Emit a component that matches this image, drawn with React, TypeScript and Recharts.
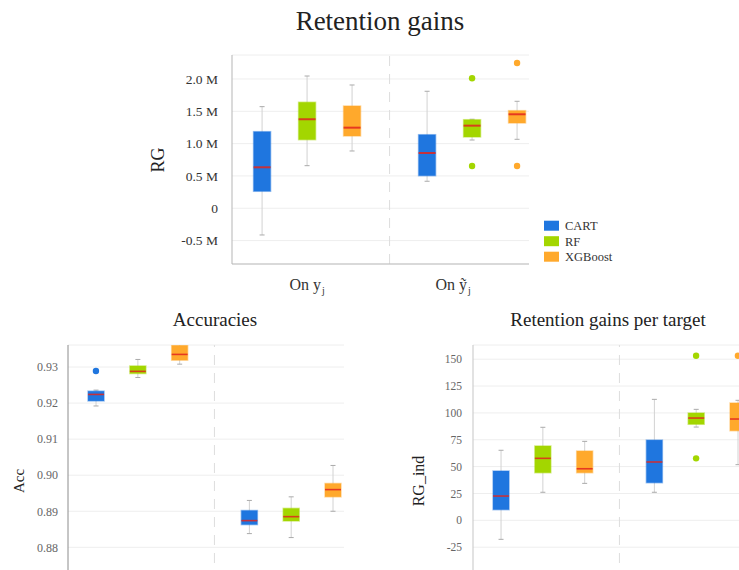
import React from 'react';
import { ComposedChart, Bar, Scatter, XAxis, YAxis, CartesianGrid, ReferenceLine } from 'recharts';

// ---------------- data ----------------
const MODELS = ['CART', 'RF', 'XGBoost'];
const GROUP_LABELS = ['On y', 'On ỹ'];
const GROUP_SUB = 'j';
const GROUP_POS = [0, 1];
const MODEL_OFFSETS = [-0.2727, 0, 0.2727];

// box stats: [min, q1, median, q3, max] for each group
// Retention gains (millions)
const rgCart = [[-0.413, 0.263, 0.634, 1.185, 1.572], [0.418, 0.504, 0.855, 1.138, 1.81]];
const rgRf = [[0.659, 1.061, 1.377, 1.64, 2.046], [1.056, 1.103, 1.278, 1.37, 1.377]];
const rgXgb = [[0.886, 1.118, 1.247, 1.582, 1.907], [1.067, 1.319, 1.454, 1.51, 1.655]];
const rgOutCart: number[][] = [[], []];
const rgOutRf = [[], [2.011, 0.654]];
const rgOutXgb = [[], [2.247, 0.654]];
const rgTicks = [-0.5, 0, 0.5, 1, 1.5, 2];

// Accuracies
const accCart = [[0.9192, 0.9206, 0.9224, 0.9233, 0.9236], [0.8838, 0.8863, 0.8874, 0.8902, 0.893]];
const accRf = [[0.9271, 0.9282, 0.9288, 0.9303, 0.9321], [0.8827, 0.8873, 0.8885, 0.8908, 0.894]];
const accXgb = [[0.9308, 0.9319, 0.9335, 0.936, 0.9363], [0.89, 0.894, 0.896, 0.8977, 0.9027]];
const accOutCart = [[0.9289], []];
const accOutRf: number[][] = [[], []];
const accOutXgb: number[][] = [[], []];
const accTicks = [0.88, 0.89, 0.9, 0.91, 0.92, 0.93];

// Retention gains per target
const rgiCart = [[-17.7, 9.9, 22.6, 45.9, 65.2], [26.1, 35.0, 54.3, 74.7, 112.6]];
const rgiRf = [[26.1, 44.3, 57.7, 69.2, 86.6], [86.8, 89.4, 95.2, 99.9, 103.3]];
const rgiXgb = [[34.4, 44.3, 48.0, 64.5, 73.5], [51.8, 83.4, 94.3, 109.2, 111.7]];
const rgiOutCart: number[][] = [[], []];
const rgiOutRf = [[], [153.2, 57.7]];
const rgiOutXgb = [[], [153.2]];
const rgiTicks = [-25, 0, 25, 50, 75, 100, 125, 150];

// ---------------- styles ----------------
const COLORS: Record<string, string> = { CART: '#1f76df', RF: '#a3d600', XGBoost: '#ffa92c' };
const MEDIAN_COLOR = '#e2261f';
const FONT = '"Liberation Serif", "Times New Roman", serif';
const X_DOMAIN = [-0.455, 1.345];

function buildBoxes(stats: number[][][]) {
  const rows: any[] = [];
  MODELS.forEach((m, mi) => {
    stats[mi].forEach((s, g) => {
      const [lo, q1, med, q3, hi] = s;
      rows.push({ pos: GROUP_POS[g] + MODEL_OFFSETS[mi], range: [lo, hi], q1, med, q3, model: m });
    });
  });
  return rows;
}

function buildOutliers(outs: number[][], mi: number) {
  const rows: any[] = [];
  outs.forEach((vals, g) => {
    vals.forEach((v) => rows.push({ pos: GROUP_POS[g] + MODEL_OFFSETS[mi], val: v }));
  });
  return rows;
}

const makeBoxShape = (medianWidth: number) => (props: any) => {
  const { x, y, width, height, payload } = props;
  if (x == null || y == null || !payload) return <g />;
  const [lo, hi] = payload.range;
  const top = Math.min(y, y + height);
  const h = Math.abs(height);
  const py = (v: number) => (hi === lo ? top : top + ((hi - v) / (hi - lo)) * h);
  const cx = x + width / 2;
  const color = COLORS[payload.model];
  const cap = 2.5;
  return (
    <g>
      <line x1={cx} x2={cx} y1={py(hi)} y2={py(lo)} stroke="#d2d2d2" strokeWidth={1} />
      <line x1={cx - cap} x2={cx + cap} y1={py(hi)} y2={py(hi)} stroke="#aaaaaa" strokeWidth={1} />
      <line x1={cx - cap} x2={cx + cap} y1={py(lo)} y2={py(lo)} stroke="#aaaaaa" strokeWidth={1} />
      <rect
        x={x}
        y={py(payload.q3)}
        width={width}
        height={Math.max(0.5, py(payload.q1) - py(payload.q3))}
        fill={color}
        stroke={color}
        strokeOpacity={0.45}
        strokeWidth={1.5}
      />
      <line
        x1={x}
        x2={x + width}
        y1={py(payload.med)}
        y2={py(payload.med)}
        stroke={MEDIAN_COLOR}
        strokeOpacity={0.85}
        strokeWidth={medianWidth}
      />
    </g>
  );
};

const GroupTick = (props: any) => {
  const { x, y, index } = props;
  const shift = index === 1 ? -19 : 0;
  return (
    <text x={x + shift} y={y + 18} textAnchor="middle" fontFamily={FONT} fontSize={16} fill="#333">
      {GROUP_LABELS[index]}
      <tspan fontSize={10} dy={4} dx={1}>
        {GROUP_SUB}
      </tspan>
    </text>
  );
};

type PanelProps = {
  left: number;
  top: number;
  width: number;
  height: number;
  margin: { top: number; right: number; bottom: number; left: number };
  yWidth: number;
  boxes: any[];
  outliers: any[][];
  yDomain: number[];
  yTicks: number[];
  fmt: (v: number) => string;
  tickSize: number;
  tickColor: string;
  tickMargin: number;
  axisColor: string;
  barSize: number;
  showX: boolean;
  medianWidth: number;
};

function Panel(p: PanelProps) {
  const shape = makeBoxShape(p.medianWidth);
  return (
    <div style={{ position: 'absolute', left: p.left, top: p.top }}>
      <ComposedChart width={p.width} height={p.height} data={p.boxes} margin={p.margin}>
        <CartesianGrid vertical={false} stroke="#eeeeee" />
        <XAxis
          type="number"
          dataKey="pos"
          domain={X_DOMAIN}
          allowDataOverflow
          ticks={GROUP_POS}
          tick={p.showX ? <GroupTick /> : false}
          tickLine={false}
          axisLine={p.showX ? { stroke: '#bbbbbb' } : false}
          height={p.showX ? 30 : 0}
          hide={!p.showX}
        />
        <YAxis
          type="number"
          domain={p.yDomain}
          allowDataOverflow
          ticks={p.yTicks}
          tickFormatter={p.fmt}
          width={p.yWidth}
          tickLine={false}
          tickMargin={p.tickMargin}
          axisLine={{ stroke: p.axisColor }}
          tick={{ fontFamily: FONT, fontSize: p.tickSize, fill: p.tickColor }}
          interval={0}
        />
        <ReferenceLine x={0.5} stroke="#dddddd" strokeDasharray="10 8" />
        <Bar dataKey="range" barSize={p.barSize} shape={shape} isAnimationActive={false} />
        {MODELS.map((m, mi) => (
          <Scatter
            key={m}
            data={p.outliers[mi]}
            dataKey="val"
            isAnimationActive={false}
            shape={(sp: any) => <circle cx={sp.cx} cy={sp.cy} r={3.2} fill={COLORS[m]} />}
          />
        ))}
      </ComposedChart>
    </div>
  );
}

const fmtM = (v: number) => (v === 0 ? '0' : `${v.toFixed(1)} M`);
const fmtAcc = (v: number) => v.toFixed(2);
const fmtInt = (v: number) => `${v}`;

export default function App() {
  const rgBoxes = buildBoxes([rgCart, rgRf, rgXgb]);
  const rgOut = [buildOutliers(rgOutCart, 0), buildOutliers(rgOutRf, 1), buildOutliers(rgOutXgb, 2)];
  const accBoxes = buildBoxes([accCart, accRf, accXgb]);
  const accOut = [buildOutliers(accOutCart, 0), buildOutliers(accOutRf, 1), buildOutliers(accOutXgb, 2)];
  const rgiBoxes = buildBoxes([rgiCart, rgiRf, rgiXgb]);
  const rgiOut = [buildOutliers(rgiOutCart, 0), buildOutliers(rgiOutRf, 1), buildOutliers(rgiOutXgb, 2)];

  return (
    <div
      style={{
        position: 'absolute',
        left: 0,
        top: 0,
        width: 739,
        height: 570,
        overflow: 'hidden',
        background: '#ffffff',
        fontFamily: FONT,
      }}
    >
      <Panel
        left={0}
        top={0}
        width={739}
        height={300}
        margin={{ top: 55, right: 210, bottom: 6, left: 0 }}
        yWidth={232}
        boxes={rgBoxes}
        outliers={rgOut}
        yDomain={[-0.862, 2.371]}
        yTicks={rgTicks}
        fmt={fmtM}
        tickSize={13.5}
        tickColor="#333"
        tickMargin={8}
        axisColor="#b5b5b5"
        barSize={17}
        showX={true}
        medianWidth={2}
      />
      <Panel
        left={0}
        top={300}
        width={370}
        height={340}
        margin={{ top: 45, right: 26, bottom: 23, left: 0 }}
        yWidth={68}
        boxes={accBoxes}
        outliers={accOut}
        yDomain={[0.86067, 0.93611]}
        yTicks={accTicks}
        fmt={fmtAcc}
        tickSize={12}
        tickColor="#666"
        tickMargin={4}
        axisColor="#8c8c8c"
        barSize={16}
        showX={false}
        medianWidth={1.6}
      />
      <Panel
        left={370}
        top={300}
        width={400}
        height={340}
        margin={{ top: 45, right: 21, bottom: 23, left: 0 }}
        yWidth={103}
        boxes={rgiBoxes}
        outliers={rgiOut}
        yDomain={[-90, 163.2]}
        yTicks={rgiTicks}
        fmt={fmtInt}
        tickSize={11.5}
        tickColor="#666"
        tickMargin={5}
        axisColor="#c5c5c5"
        barSize={16}
        showX={false}
        medianWidth={1.6}
      />
      <svg
        width={739}
        height={570}
        style={{ position: 'absolute', left: 0, top: 0, pointerEvents: 'none' }}
      >
        <text x={380} y={30} textAnchor="middle" fontFamily={FONT} fontSize={27} fill="#222">
          Retention gains
        </text>
        <text x={215} y={326} textAnchor="middle" fontFamily={FONT} fontSize={19} fill="#222">
          Accuracies
        </text>
        <text x={608} y={326} textAnchor="middle" fontFamily={FONT} fontSize={19} fill="#222">
          Retention gains per target
        </text>
        <text x={164} y={160} transform="rotate(-90 164 160)" textAnchor="middle" fontFamily={FONT} fontSize={18} fill="#222">
          RG
        </text>
        <text x={24} y={481} transform="rotate(-90 24 481)" textAnchor="middle" fontFamily={FONT} fontSize={15} fill="#222">
          Acc
        </text>
        <text x={424} y={481} transform="rotate(-90 424 481)" textAnchor="middle" fontFamily={FONT} fontSize={16} fill="#222">
          RG_ind
        </text>
        {MODELS.map((m, i) => (
          <g key={m}>
            <rect x={544} y={220.7 + i * 15.5} width={15} height={10} fill={COLORS[m]} />
            <text x={565} y={230 + i * 15.5} fontFamily={FONT} fontSize={12.5} fill="#333">
              {m}
            </text>
          </g>
        ))}
      </svg>
    </div>
  );
}
